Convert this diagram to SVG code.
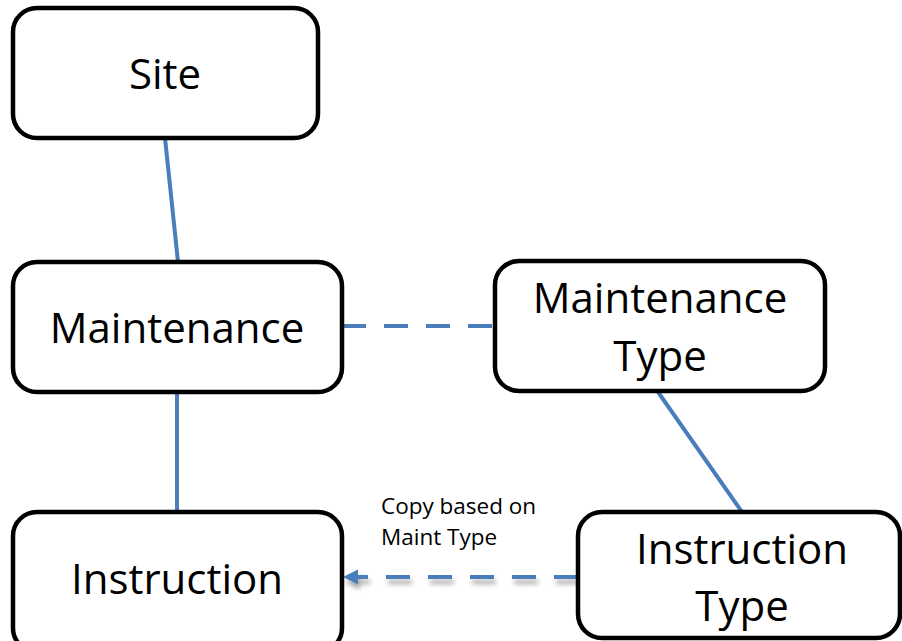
<svg xmlns="http://www.w3.org/2000/svg" width="902" height="641" viewBox="0 0 902 641">
<defs>
<style>
.box{fill:#fff;stroke:#000;stroke-width:4.5}
.t{font-family:"Open Sans","Liberation Sans",sans-serif;font-size:42px;fill:#000;text-anchor:middle}
.lbl{font-family:"Open Sans","Liberation Sans",sans-serif;font-size:22.5px;fill:#000}
.c{stroke:#4A7EBB;stroke-width:4;fill:none}
.d{stroke-dasharray:24 18}
</style>
<marker id="ah" viewBox="0 0 10 10" refX="0" refY="5" markerWidth="3.8" markerHeight="4" orient="auto-start-reverse" markerUnits="strokeWidth">
<path d="M0,0 L10,5 L0,10 z" fill="#4A7EBB"/>
</marker>
<filter id="sh" filterUnits="userSpaceOnUse" x="330" y="555" width="270" height="50">
<feGaussianBlur in="SourceAlpha" stdDeviation="2.5"/>
<feOffset dx="2" dy="5"/>
<feComponentTransfer><feFuncA type="linear" slope="0.35"/></feComponentTransfer>
<feMerge><feMergeNode/><feMergeNode in="SourceGraphic"/></feMerge>
</filter>
</defs>
<g id="connectors">
<line class="c" x1="165" y1="138" x2="178" y2="262"/>
<line class="c" x1="177" y1="392" x2="177" y2="512"/>
<line class="c" x1="658" y1="392" x2="742" y2="512"/>
<line class="c d" x1="342" y1="326" x2="495" y2="326"/>
<g filter="url(#sh)">
<line class="c d" x1="578" y1="577" x2="358" y2="577" marker-end="url(#ah)"/>
</g>
</g>
<g id="site">
<rect class="box" x="13" y="8" width="305" height="130" rx="24"/>
<text class="t" x="165" y="89">Site</text>
</g>
<g id="maintenance">
<rect class="box" x="13" y="262" width="329" height="130" rx="24"/>
<text class="t" x="177" y="343">Maintenance</text>
</g>
<g id="maintenance-type">
<rect class="box" x="495" y="261" width="330" height="130" rx="24"/>
<text class="t" x="660" y="313">Maintenance</text>
<text class="t" x="660" y="371">Type</text>
</g>
<g id="instruction">
<rect class="box" x="13" y="512" width="329" height="140" rx="24"/>
<text class="t" x="177" y="594">Instruction</text>
</g>
<g id="instruction-type">
<rect class="box" x="578" y="512" width="322" height="126" rx="24"/>
<text class="t" x="742" y="564">Instruction</text>
<text class="t" x="742" y="621">Type</text>
</g>
<g id="label">
<text class="lbl" x="381" y="514">Copy based on</text>
<text class="lbl" x="381" y="545">Maint Type</text>
</g>
</svg>
